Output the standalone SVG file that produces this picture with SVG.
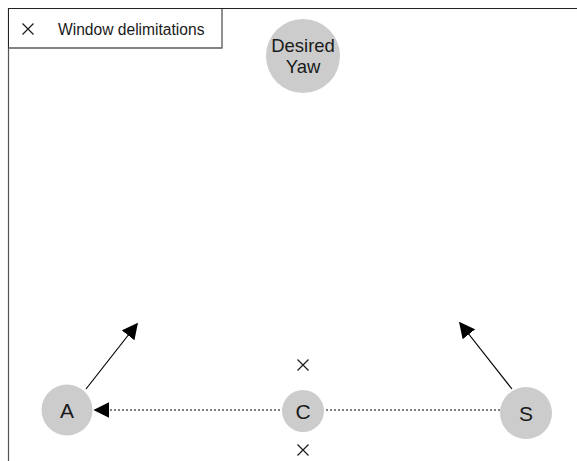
<svg xmlns="http://www.w3.org/2000/svg" width="577" height="461" viewBox="0 0 577 461">
<defs>
<style>
.node{fill:#cccccc;stroke:none}
.lbl{font-family:"Liberation Sans",Arial,sans-serif;fill:#1a1a1a;text-anchor:middle}
.x{stroke:#1a1a1a;stroke-width:1.2;fill:none}
</style>
<marker id="ah" viewBox="0 0 10 10" refX="9" refY="5" markerWidth="16" markerHeight="16" markerUnits="userSpaceOnUse" orient="auto">
<path d="M0,0 L10,5 L0,10 z" fill="#000"/>
</marker>
</defs>
<rect width="577" height="461" fill="#fff"/>
<g id="window">
<line x1="8" y1="8.5" x2="577" y2="8.5" stroke="#222" stroke-width="1.2"/>
<line x1="8.5" y1="8" x2="8.5" y2="461" stroke="#555" stroke-width="1.2"/>
</g>
<g id="legend">
<rect x="8.5" y="8.5" width="213.5" height="39.5" fill="#fff" stroke="#222" stroke-width="1"/>
<line x1="8.5" y1="48" x2="222" y2="48" stroke="#777" stroke-width="1.2"/>
<path class="x" d="M22.5,23.5 L33.5,34.5 M33.5,23.5 L22.5,34.5"/>
<text class="lbl" x="58" y="35" font-size="15.6" style="text-anchor:start">Window delimitations</text>
</g>
<g id="connectors">
<line x1="500" y1="410" x2="95" y2="410" stroke="#555" stroke-width="1.5" stroke-dasharray="2,2" marker-end="url(#ah)"/>
<line x1="86" y1="389" x2="137" y2="324" stroke="#000" stroke-width="1.2" marker-end="url(#ah)"/>
<line x1="512" y1="389" x2="460" y2="323" stroke="#000" stroke-width="1.2" marker-end="url(#ah)"/>
</g>
<g id="desired-yaw">
<circle class="node" cx="303" cy="56" r="37"/>
<text class="lbl" x="303" y="52" font-size="18.5">Desired</text>
<text class="lbl" x="303" y="73" font-size="18.5">Yaw</text>
</g>
<g id="node-A">
<circle class="node" cx="67" cy="410" r="25.5"/>
<text class="lbl" x="67" y="418" font-size="21">A</text>
</g>
<g id="node-C">
<circle class="node" cx="303" cy="411" r="21"/>
<text class="lbl" x="303" y="419" font-size="21">C</text>
</g>
<g id="node-S">
<circle class="node" cx="526" cy="413" r="26"/>
<text class="lbl" x="526" y="421" font-size="21">S</text>
</g>
<g id="markers">
<path class="x" d="M297.5,359.5 L308.5,370.5 M308.5,359.5 L297.5,370.5"/>
<path class="x" d="M297.5,444.5 L308.5,455.5 M308.5,444.5 L297.5,455.5"/>
</g>
</svg>
